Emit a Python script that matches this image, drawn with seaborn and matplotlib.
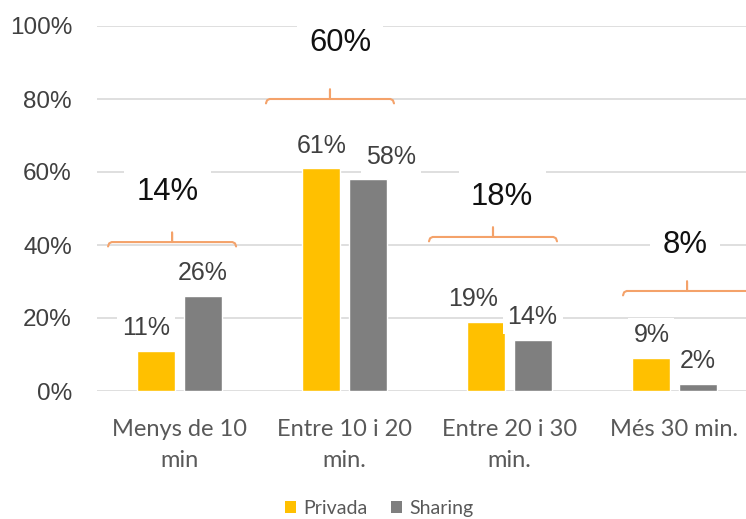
import matplotlib
matplotlib.use("Agg")
import matplotlib.pyplot as plt
import seaborn as sns
import pandas as pd
from matplotlib.patches import Patch

categories = ["Menys de 10\nmin", "Entre 10 i 20\nmin.", "Entre 20 i 30\nmin.", "Més 30 min."]
series = ["Privada", "Sharing"]
privada = [11, 61, 19, 9]
sharing = [26, 58, 14, 2]
totals = [14, 60, 18, 8]
yticks = [0, 20, 40, 60, 80, 100]

df = pd.DataFrame({
    "cat": categories * 2,
    "serie": [series[0]] * 4 + [series[1]] * 4,
    "val": privada + sharing,
})

sns.set_theme(style="white")
plt.rcParams["font.family"] = ["Liberation Sans", "DejaVu Sans"]

fig = plt.figure(figsize=(7.46, 5.19), dpi=100)
ax = fig.add_axes([97 / 746, 128 / 519, 649 / 746, 365 / 519])

colors = {"Privada": "#FFC000", "Sharing": "#7F7F7F"}
sns.barplot(data=df, x="cat", y="val", hue="serie", order=categories,
            hue_order=series, palette=colors, width=0.56, gap=0.18,
            ax=ax, legend=False, saturation=1)

ax.set_ylim(0, 100)
ax.set_xlim(-0.5, -0.5 + 649 / 165)
ax.set_yticks(yticks)
ax.set_yticklabels([f"{v}%" for v in yticks], fontsize=17.5, color="#404040")
ax.yaxis.grid(True, color="#D9D9D9", linewidth=1.2)
ax.set_axisbelow(True)
for s in ax.spines.values():
    s.set_visible(False)
ax.tick_params(axis="both", length=0)
ax.tick_params(axis="y", pad=18)
ax.set_xlabel("")
ax.set_ylabel("")
ax.set_xticks(range(len(categories)))
ax.set_xticklabels(categories, fontsize=17, color="#595959",
                   family=["Lato", "DejaVu Sans"], linespacing=1.6)
ax.tick_params(axis="x", pad=20)

# bar value labels
label_dx = {(0, 0): -0.065, (1, 1): 0.14, (2, 0): -0.08}
for si, cont in enumerate(ax.containers):
    for ci, bar in enumerate(cont):
        h = bar.get_height()
        xc = bar.get_x() + bar.get_width() / 2 + label_dx.get((ci, si), 0.0)
        ax.text(xc, h + 4.3, f"{h:.0f}%", ha="center", va="baseline",
                fontsize=18, color="#404040",
                bbox=dict(boxstyle="square,pad=0.2", facecolor="white",
                          edgecolor="none"))

# brackets with group totals
bracket_y = [40.8, 80, 42.2, 27.4]
bracket_c = [-0.045, -0.088, -0.1, 0.076]
bracket_hw = 0.388
label_x = [-0.07, 0.973, 1.955, 3.064]
label_y = [54.5, 95.3, 53.2, 40.0]
orange = "#F4A26A"
for i, tot in enumerate(totals):
    xc = i + bracket_c[i]
    x0, x1 = xc - bracket_hw, xc + bracket_hw
    y = bracket_y[i]
    r = 0.022
    xs = [x0, x0 + r * 0.3, x0 + r, xc, xc, xc, x1 - r, x1 - r * 0.3, x1]
    ys = [y - 1.2, y - 0.35, y, y, y + 2.6, y, y, y - 0.35, y - 1.2]
    ax.plot(xs, ys, color=orange, linewidth=1.5, solid_capstyle="round",
            solid_joinstyle="round", clip_on=False, zorder=3)
    ax.text(label_x[i], label_y[i], f"{tot}%", ha="center", va="center",
            fontsize=22.3, color="#111111", zorder=4,
            bbox=dict(boxstyle="square,pad=0.4", facecolor="white",
                      edgecolor="none"))

handles = [Patch(facecolor=colors[s], edgecolor="none", label=s) for s in series]
fig.legend(handles=handles, loc="lower center", bbox_to_anchor=(0.508, -0.03),
           ncol=2, frameon=False, handlelength=0.6,
           handleheight=0.6, handletextpad=0.35, columnspacing=1.2,
           prop={"family": ["Lato", "DejaVu Sans"], "size": 14},
           labelcolor="#595959")

fig.savefig("out.png", dpi=100)
